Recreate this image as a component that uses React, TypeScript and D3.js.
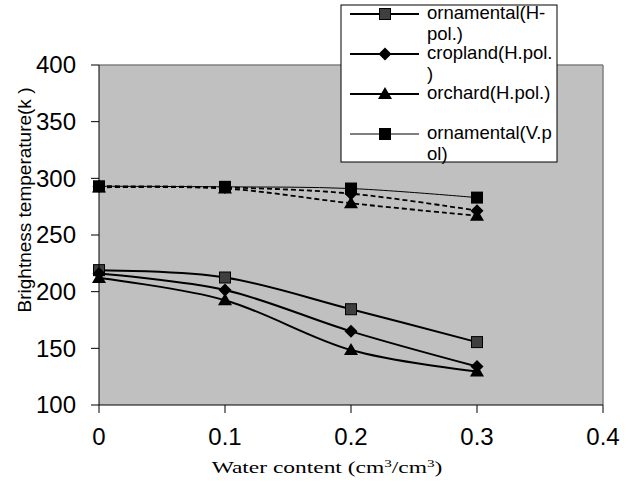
import React from "react";
import * as d3 from "d3";

const waterContent = [0, 0.1, 0.2, 0.3];
const ornamentalH = [219, 212.5, 184.5, 155.5];
const croplandH = [216, 201.5, 165, 134];
const orchardH = [212, 192.5, 148.5, 129.5];
const ornamentalV = [293, 292.5, 291, 283];
const croplandV = [293, 292, 286.5, 271.5];
const orchardV = [292, 291, 278, 267];
const yTicks = [100, 150, 200, 250, 300, 350, 400];
const xTicks = [0, 0.1, 0.2, 0.3, 0.4];

type Marker = "sqGray" | "sqBlack" | "diamond" | "triangle";

const series: { name: string; values: number[]; marker: Marker; dash?: string; width: number }[] = [
  { name: "ornamentalV", values: ornamentalV, marker: "sqBlack", width: 1 },
  { name: "croplandV", values: croplandV, marker: "diamond", dash: "5,3", width: 1.8 },
  { name: "orchardV", values: orchardV, marker: "triangle", dash: "5,3", width: 1.8 },
  { name: "ornamentalH", values: ornamentalH, marker: "sqGray", width: 2 },
  { name: "croplandH", values: croplandH, marker: "diamond", width: 2 },
  { name: "orchardH", values: orchardH, marker: "triangle", width: 2 },
];

const legendItems: { lines: string[]; marker: Marker; width: number }[] = [
  { lines: ["ornamental(H-", "pol.)"], marker: "sqGray", width: 2 },
  { lines: ["cropland(H.pol.", ")"], marker: "diamond", width: 2 },
  { lines: ["orchard(H.pol.)"], marker: "triangle", width: 2 },
  { lines: ["ornamental(V.p", "ol)"], marker: "sqBlack", width: 1 },
];

const W = 629;
const H = 486;
const left = 99;
const right = 603;
const top = 65;
const bottom = 405;

function MarkerShape({ m, x, y }: { m: Marker; x: number; y: number }) {
  if (m === "sqGray") {
    return <rect x={x - 5.5} y={y - 5.5} width={11} height={11} fill="#3f3f3f" stroke="#000" strokeWidth={1} />;
  }
  if (m === "sqBlack") {
    return <rect x={x - 6} y={y - 6} width={12} height={12} fill="#000" />;
  }
  if (m === "diamond") {
    const r = 6.5;
    return <path d={`M${x},${y - r}L${x + r},${y}L${x},${y + r}L${x - r},${y}Z`} fill="#000" />;
  }
  const p = d3.symbol(d3.symbolTriangle, 85)();
  return <path d={p || ""} transform={`translate(${x},${y + 1})`} fill="#000" />;
}

export default function App() {
  const x = d3.scaleLinear().domain([0, 0.4]).range([left, right]);
  const y = d3.scaleLinear().domain([100, 400]).range([bottom, top]);
  const line = d3
    .line<number>()
    .x((_, i) => x(waterContent[i]))
    .y((d) => y(d))
    .curve(d3.curveCatmullRom.alpha(0));

  return (
    <svg width={W} height={H} style={{ position: "absolute", left: 0, top: 0 }}>
      <rect x={0} y={0} width={W} height={H} fill="#fff" />
      <rect x={left} y={top} width={right - left} height={bottom - top} fill="#c0c0c0" />
      <line x1={left} y1={top} x2={right} y2={top} stroke="#808080" strokeWidth={1.5} />
      <line x1={right} y1={top} x2={right} y2={bottom} stroke="#808080" strokeWidth={1.5} />

      {series.map((s) => (
        <path
          key={s.name}
          d={line(s.values) || ""}
          fill="none"
          stroke="#000"
          strokeWidth={s.width}
          strokeDasharray={s.dash}
        />
      ))}
      {series.map((s) =>
        s.values.map((v, i) => <MarkerShape key={s.name + i} m={s.marker} x={x(waterContent[i])} y={y(v)} />)
      )}

      <line x1={left} y1={top} x2={left} y2={bottom} stroke="#000" strokeWidth={1} />
      <line x1={left} y1={bottom} x2={right} y2={bottom} stroke="#000" strokeWidth={1} />
      {yTicks.map((t) => (
        <g key={"y" + t}>
          <line x1={left - 8} x2={left} y1={y(t)} y2={y(t)} stroke="#000" />
          <text x={76} y={y(t)} dy="0.35em" textAnchor="end" fontFamily="Liberation Sans, Arial" fontSize={24}>
            {t}
          </text>
        </g>
      ))}
      {xTicks.map((t) => (
        <g key={"x" + t}>
          <line x1={x(t)} x2={x(t)} y1={bottom} y2={bottom + 8} stroke="#000" />
          <text x={x(t)} y={445} textAnchor="middle" fontFamily="Liberation Sans, Arial" fontSize={24}>
            {t}
          </text>
        </g>
      ))}
      <g transform="translate(327,473) scale(1.38,1)">
        <text x={0} y={0} textAnchor="middle" fontFamily="Liberation Serif, Times New Roman" fontSize={17}>
          Water content (cm<tspan dy={-6} fontSize={11}>3</tspan>
          <tspan dy={6}>/cm</tspan>
          <tspan dy={-6} fontSize={11}>3</tspan>
          <tspan dy={6}>)</tspan>
        </text>
      </g>
      <text
        transform="translate(31,200) rotate(-90)"
        textAnchor="middle"
        fontFamily="Liberation Sans, Arial"
        fontSize={19}
      >
        Brightness temperature(k )
      </text>

      <rect x={341} y={5} width={216} height={157} fill="#fff" stroke="#000" strokeWidth={1} />
      {legendItems.map((it, i) => {
        const ly = 14 + i * 40;
        return (
          <g key={"l" + i}>
            <line x1={350} x2={419} y1={ly} y2={ly} stroke="#000" strokeWidth={it.width} />
            <MarkerShape m={it.marker} x={385} y={ly} />
            {it.lines.map((t, j) => (
              <text key={j} x={427} y={ly + 5 + j * 21} fontFamily="Liberation Sans, Arial" fontSize={18.5}>
                {t}
              </text>
            ))}
          </g>
        );
      })}
    </svg>
  );
}
